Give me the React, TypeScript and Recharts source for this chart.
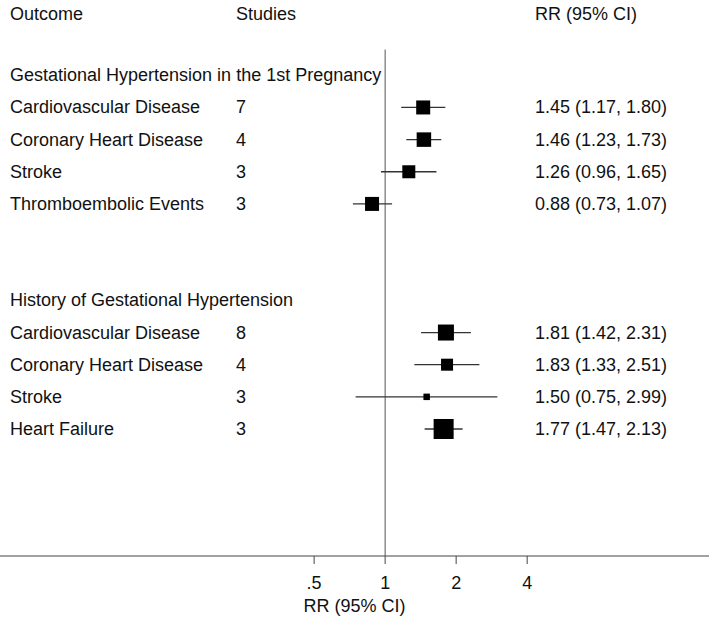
import { ErrorBar, ReferenceLine, Scatter, ScatterChart, XAxis, YAxis } from "recharts"

// rows: position index (top to bottom) of each line of the table
const headerRow = -0.9
const groupTitles = ["Gestational Hypertension in the 1st Pregnancy", "History of Gestational Hypertension"]
const groupRows = [1, 8]

const outcomes = [
  "Cardiovascular Disease",
  "Coronary Heart Disease",
  "Stroke",
  "Thromboembolic Events",
  "Cardiovascular Disease",
  "Coronary Heart Disease",
  "Stroke",
  "Heart Failure",
]
const outcomeRows = [2, 3, 4, 5, 9, 10, 11, 12]
const studies = [7, 4, 3, 3, 8, 4, 3, 3]
const rr = [1.45, 1.46, 1.26, 0.88, 1.81, 1.83, 1.5, 1.77]
const lower = [1.17, 1.23, 0.96, 0.73, 1.42, 1.33, 0.75, 1.47]
const upper = [1.8, 1.73, 1.65, 1.07, 2.31, 2.51, 2.99, 2.13]
// relative weight (box area)
const weights = [196, 210, 169, 196, 256, 144, 42, 400]

const xTicks = [0.5, 1, 2, 4]

const FONT = "'Liberation Sans', Arial, sans-serif"
const INK = "#111"
const FS = 18

const points = outcomes.map((name, i) => ({
  name,
  k: outcomeRows[i],
  rr: rr[i],
  err: [rr[i] - lower[i], upper[i] - rr[i]],
  w: weights[i],
}))

type RowText = { label: string; studies?: string; ci?: string }
const rowText: Record<number, RowText> = {
  [headerRow]: { label: "Outcome", studies: "Studies", ci: "RR (95% CI)" },
}
groupRows.forEach((k, i) => (rowText[k] = { label: groupTitles[i] }))
outcomeRows.forEach((k, i) => {
  rowText[k] = {
    label: outcomes[i],
    studies: String(studies[i]),
    ci: `${rr[i].toFixed(2)} (${lower[i].toFixed(2)}, ${upper[i].toFixed(2)})`,
  }
})
const yTicks = [headerRow, ...groupRows, ...outcomeRows]

function RowTick({ y, payload }: any) {
  const r = rowText[payload.value]
  if (!r) return null
  const common = { y, fontSize: FS, fill: INK, fontFamily: FONT, dominantBaseline: "central" as const }
  return (
    <g>
      <text x={10} {...common}>{r.label}</text>
      {r.studies && <text x={236} {...common}>{r.studies}</text>}
      {r.ci && <text x={535} {...common}>{r.ci}</text>}
    </g>
  )
}

function Box({ cx, cy, payload }: any) {
  const s = Math.sqrt(payload.w)
  return <rect x={cx - s / 2} y={cy - s / 2} width={s} height={s} fill="#000" />
}

export default function App() {
  return (
    <div style={{ position: "absolute", left: 0, top: 0, background: "#fff" }}>
      <ScatterChart width={709} height={622} margin={{ top: 11, right: 0, bottom: 0, left: -1 }}>
        <XAxis
          type="number"
          dataKey="rr"
          scale="log"
          domain={[0.0233, 23.6]}
          allowDataOverflow
          ticks={xTicks}
          interval={0}
          tickFormatter={(v) => (v === 0.5 ? ".5" : String(v))}
          tickSize={8}
          tickMargin={12}
          height={66}
          stroke="#444"
          tick={{ fill: INK, fontSize: FS, fontFamily: FONT }}
          label={{ value: "RR (95% CI)", position: "insideBottom", offset: 10, fill: INK, fontSize: FS, fontFamily: FONT }}
        />
        <YAxis
          type="number"
          dataKey="k"
          domain={[-1, 15.95]}
          reversed
          width={1}
          ticks={yTicks}
          interval={0}
          axisLine={false}
          tickLine={false}
          tick={<RowTick />}
        />
        <ReferenceLine
          segment={[{ x: 1, y: 0.2 }, { x: 1, y: 15.95 }]}
          stroke="#555"
          strokeWidth={1}
          ifOverflow="visible"
        />
        <Scatter data={points} shape={<Box />} isAnimationActive={false}>
          <ErrorBar dataKey="err" direction="x" width={0} stroke="#333" strokeWidth={1.3} isAnimationActive={false} />
        </Scatter>
      </ScatterChart>
    </div>
  )
}
